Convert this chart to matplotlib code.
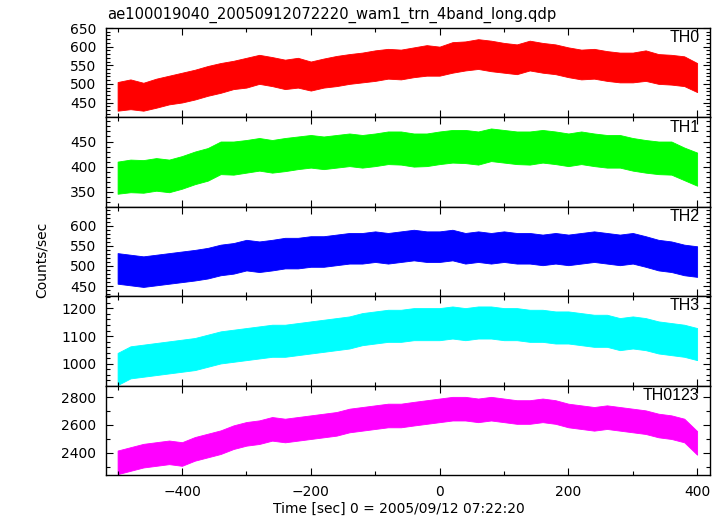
import numpy as np
import matplotlib.pyplot as plt
from matplotlib.ticker import MultipleLocator

# bin start times [sec], 20 s steps
time = np.arange(-500, 401, 20)

# band of the light curve (low / high edge of the noisy trace)
th0_hi = [505, 512, 503, 514, 522, 530, 538, 548, 556, 562, 570, 578, 572, 565, 570, 560, 568, 575, 580, 584, 590, 594, 592,
          598, 604, 600, 612, 614, 620, 616, 610, 606, 616, 610, 606, 598, 592, 594, 588, 584, 584, 590, 580, 578, 574, 556]
th0_lo = [428, 432, 428, 436, 445, 450, 458, 468, 476, 486, 490, 500, 494, 486, 490, 482, 490, 494, 500, 504, 508, 514, 512,
          518, 522, 522, 530, 536, 540, 534, 530, 526, 536, 530, 526, 518, 512, 514, 508, 504, 504, 508, 500, 498, 494, 478]

th1_hi = [410, 414, 413, 417, 414, 421, 430, 437, 450, 450, 453, 457, 453, 457, 460, 463, 460, 463, 466, 463, 466, 470, 470,
          466, 466, 470, 473, 473, 470, 476, 473, 470, 470, 473, 470, 466, 470, 466, 463, 463, 457, 453, 450, 450, 438, 428]
th1_lo = [346, 349, 348, 352, 349, 356, 365, 372, 385, 384, 388, 392, 388, 391, 395, 398, 395, 398, 401, 398, 401, 405, 404,
          400, 401, 405, 408, 407, 404, 411, 408, 405, 404, 408, 405, 401, 405, 401, 398, 398, 392, 388, 385, 384, 373, 362]

th2_hi = [532, 528, 524, 528, 532, 536, 540, 545, 553, 557, 565, 561, 565, 570, 570, 574, 574, 578, 582, 582, 586, 582, 586,
          590, 586, 586, 590, 582, 586, 582, 586, 582, 582, 578, 582, 578, 582, 586, 582, 578, 582, 574, 565, 561, 553, 549]
th2_lo = [456, 452, 448, 452, 456, 460, 464, 469, 477, 481, 489, 485, 489, 494, 494, 498, 498, 502, 506, 506, 510, 506, 510,
          514, 510, 510, 514, 506, 510, 506, 510, 506, 506, 502, 506, 502, 506, 510, 506, 502, 506, 498, 489, 485, 477, 473]

th3_hi = [1039, 1063, 1069, 1075, 1081, 1087, 1093, 1105, 1117, 1123, 1129, 1135, 1141, 1141, 1147, 1153, 1159, 1165, 1171,
          1183, 1189, 1195, 1195, 1201, 1201, 1201, 1207, 1201, 1207, 1207, 1201, 1201, 1195, 1195, 1189, 1189, 1183, 1177,
          1177, 1165, 1171, 1165, 1153, 1147, 1141, 1129]
th3_lo = [923, 947, 953, 959, 965, 971, 977, 989, 1001, 1007, 1013, 1019, 1025, 1025, 1031, 1037, 1043, 1049, 1055, 1067,
          1073, 1079, 1079, 1085, 1085, 1085, 1091, 1085, 1091, 1091, 1085, 1085, 1079, 1079, 1073, 1073, 1067, 1061, 1061,
          1049, 1055, 1049, 1037, 1031, 1025, 1013]

th0123_hi = [2415, 2439, 2463, 2475, 2487, 2475, 2512, 2536, 2560, 2596, 2620, 2632, 2656, 2644, 2656, 2668, 2680, 2692,
             2716, 2728, 2740, 2752, 2752, 2765, 2777, 2789, 2801, 2801, 2789, 2801, 2789, 2777, 2777, 2789, 2777, 2752,
             2740, 2728, 2740, 2728, 2716, 2704, 2680, 2668, 2644, 2555]
th0123_lo = [2245, 2269, 2293, 2305, 2317, 2305, 2342, 2366, 2390, 2426, 2450, 2462, 2486, 2474, 2486, 2498, 2510, 2522,
             2546, 2558, 2570, 2582, 2582, 2595, 2607, 2619, 2631, 2631, 2619, 2631, 2619, 2607, 2607, 2619, 2607, 2582,
             2570, 2558, 2570, 2558, 2546, 2534, 2510, 2498, 2474, 2385]

names = ["TH0", "TH1", "TH2", "TH3", "TH0123"]
colors = ["#ff0000", "#00ff00", "#0000ff", "#00ffff", "#ff00ff"]
bands = [(th0_lo, th0_hi), (th1_lo, th1_hi), (th2_lo, th2_hi), (th3_lo, th3_hi), (th0123_lo, th0123_hi)]
ylims = [(410, 650), (320, 498), (425, 647), (921, 1244), (2239, 2882)]
yticks = [(50, 10), (50, 10), (50, 10), (100, 20), (200, 100)]

plt.rcParams["font.size"] = 10

fig, axes = plt.subplots(5, 1, figsize=(7.24, 5.16), dpi=100, sharex=True)
fig.subplots_adjust(left=106 / 724, right=710 / 724, top=1 - 28 / 516, bottom=1 - 475 / 516, hspace=0)

for ax, name, c, (lo, hi), yl, (major, minor) in zip(axes, names, colors, bands, ylims, yticks):
    ax.fill_between(time, lo, hi, color=c, lw=0.6)
    ax.set_ylim(*yl)
    ax.set_xlim(-518, 420)
    ax.yaxis.set_major_locator(MultipleLocator(major))
    ax.yaxis.set_minor_locator(MultipleLocator(minor))
    ax.xaxis.set_major_locator(MultipleLocator(200))
    ax.xaxis.set_minor_locator(MultipleLocator(100))
    ax.tick_params(which="both", direction="in", top=True, right=True, width=0.8)
    ax.tick_params(which="major", length=5, pad=7)
    ax.tick_params(which="minor", length=3)
    for s in ax.spines.values():
        s.set_linewidth(1.0)
    ax.text(0.983, 0.975, name, transform=ax.transAxes, ha="right", va="top",
            fontsize=11.5, family="Liberation Sans")

axes[-1].set_xlabel("Time [sec] 0 = 2005/09/12 07:22:20")
axes[-1].xaxis.set_label_coords((399 - 106) / 604, -0.3)
fig.text(42 / 724, 0.5 - 2 / 516, "Counts/sec", rotation=90, ha="center", va="center")
fig.text(107 / 724, 1 - 15 / 516, "ae100019040_20050912072220_wam1_trn_4band_long.qdp",
         ha="left", va="center", fontsize=10.6)

fig.savefig("out.png", dpi=100)
